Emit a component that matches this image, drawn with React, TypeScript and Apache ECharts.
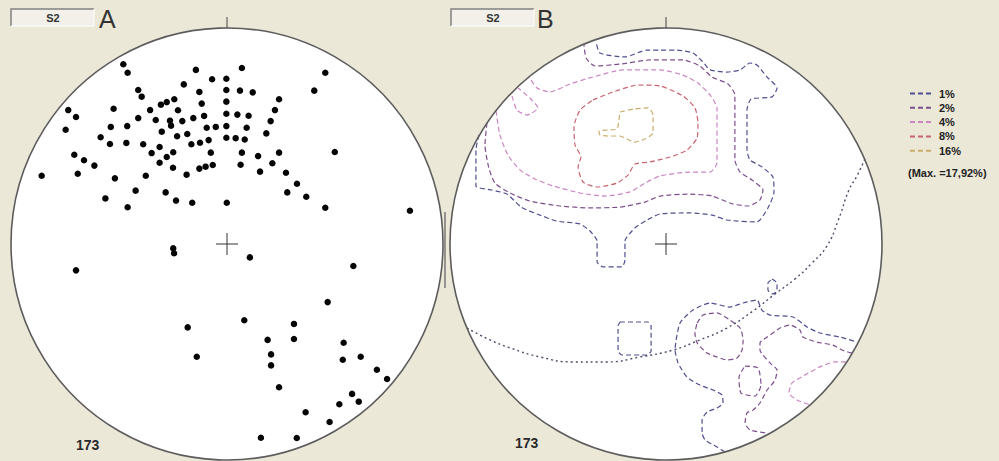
import React, { useEffect, useRef } from 'react';
import * as echarts from 'echarts';

// Projection coordinates on the net, radius = 100 (x east, y north)

// Panel A: poles of S2
const polesA: [number, number][] = [
  [-48.0, 83.2], [-46.0, 79.3], [-14.4, 80.6], [6.9, 81.5], [-6.9, 76.3], [-0.3, 76.5], [-20.0, 73.9],
  [-41.1, 71.3], [-39.5, 68.2], [-12.8, 70.4], [-0.3, 71.3], [6.0, 71.0], [-73.5, 62.0], [-69.9, 58.8],
  [-52.5, 62.6], [-30.6, 64.5], [-27.9, 65.7], [-24.4, 67.0], [-11.7, 65.0], [-0.3, 65.9], [-35.6, 62.0],
  [-22.7, 61.9], [-0.3, 60.3], [4.8, 59.9], [10.0, 59.4], [-41.1, 58.3], [-33.0, 57.4], [-26.4, 57.1],
  [-25.9, 54.8], [-20.7, 56.9], [-15.6, 58.3], [-10.6, 59.3], [-74.7, 52.9], [-53.8, 54.2], [-46.2, 54.6],
  [-30.2, 52.0], [-9.4, 53.8], [-5.2, 54.2], [-0.3, 54.6], [9.1, 53.8], [-58.5, 49.4], [-54.2, 46.3],
  [-46.6, 46.8], [-38.8, 46.2], [-23.1, 49.9], [-18.4, 50.9], [-16.5, 46.2], [-12.5, 46.9], [-8.5, 48.1],
  [-0.3, 49.2], [4.0, 49.0], [8.2, 48.4], [-31.2, 44.9], [-34.9, 42.1], [-24.9, 42.5], [-7.5, 42.3],
  [6.9, 42.3], [-70.7, 41.3], [-66.2, 38.8], [-61.4, 36.3], [-27.9, 40.3], [-31.2, 37.6], [-25.0, 35.3],
  [-12.8, 34.9], [-9.9, 35.8], [-6.6, 36.6], [6.3, 36.7], [-85.8, 31.6], [-69.1, 32.5], [-51.9, 30.4],
  [-37.6, 31.6], [-18.7, 32.1], [-42.3, 24.7], [-56.3, 21.1], [-28.4, 23.9], [-23.6, 20.1], [-46.0, 17.0],
  [-16.1, 19.1], [-0.1, 19.1], [45.5, 79.3], [11.9, 70.2], [40.4, 71.0], [24.1, 67.0], [22.2, 62.0],
  [20.2, 56.9], [18.2, 51.2], [14.4, 40.7], [24.1, 42.3], [49.9, 42.6], [21.0, 37.4], [15.3, 33.5],
  [27.3, 33.0], [32.4, 27.9], [27.9, 23.9], [36.7, 21.9], [45.5, 16.8], [84.7, 15.4], [-24.9, -2.0],
  [-24.5, -4.3], [-69.9, -12.2], [-18.2, -38.6], [-14.0, -52.2], [10.6, -6.2], [58.5, -10.2], [46.6, -26.9],
  [8.0, -35.3], [31.0, -37.0], [18.8, -44.4], [31.0, -44.0], [54.0, -45.7], [20.4, -51.1], [20.4, -56.2],
  [53.6, -53.6], [61.9, -52.2], [69.4, -58.2], [74.1, -62.5], [24.1, -66.3], [57.9, -69.4], [61.0, -73.0],
  [52.0, -74.2], [36.4, -77.9], [47.5, -82.4], [15.7, -89.7], [32.3, -89.8],
];

// Panel B: density contours
const levelNames = ['1%', '2%', '4%', '8%', '16%'];
const levelColors = ['#4f4f92', '#7d4f8e', '#cc86c4', '#c8646e', '#c9ad6a'];

const contour1: [number, number][][] = [
  [[-86.6, 50.5], [-88.0, 43.5], [-88.0, 26.9], [-80.6, 25.0], [-73.6, 23.1], [-67.1, 17.1], [-59.7, 13.9],
   [-50.5, 10.6], [-39.8, 9.3], [-35.2, 6.0], [-31.9, 1.4], [-31.9, -8.3], [-29.2, -10.6], [-20.4, -10.6],
   [-19.0, -7.4], [-19.0, 1.4], [-14.4, 7.4], [-8.8, 11.1], [-2.8, 13.9], [11.1, 14.4], [21.3, 13.4],
   [28.2, 11.1], [42.1, 10.2], [47.2, 16.7], [50.0, 24.1], [49.5, 31.0], [44.4, 35.7], [38.9, 38.9],
   [37.5, 43.5], [37.5, 62.0], [39.4, 67.1], [49.1, 68.1], [51.4, 72.2], [46.8, 77.3], [42.1, 82.9],
   [38.9, 83.8], [34.3, 80.6], [28.2, 79.6], [20.4, 80.6], [17.1, 84.3], [12.5, 88.4], [5.1, 89.8],
   [-2.8, 89.8], [-8.8, 89.8], [-19.0, 86.6], [-30.6, 88.4], [-32.4, 93.5]],
  [[27.3, -96.3], [23.6, -94.0], [18.1, -90.7], [16.7, -87.5], [16.7, -81.5], [19.0, -77.8], [23.6, -75.9],
   [26.4, -73.6], [25.9, -69.9], [21.8, -67.6], [15.7, -65.3], [9.7, -61.6], [5.6, -55.1], [4.2, -49.1],
   [6.5, -36.6], [12.5, -30.6], [20.4, -27.3], [29.6, -29.2], [35.7, -27.3], [42.1, -25.9], [44.4, -30.6],
   [48.2, -32.9], [58.8, -33.8], [65.3, -38.4], [71.3, -41.2], [80.6, -43.1], [88.4, -45.4]],
  [[49.1, -16.2], [51.4, -18.1], [51.4, -21.8], [49.1, -23.1], [47.2, -21.3], [47.2, -18.1], [49.1, -16.2]],
  [[-21.3, -36.1], [-8.3, -36.1], [-6.9, -38.0], [-6.9, -49.5], [-8.8, -51.4], [-20.4, -51.4], [-22.2, -49.5],
   [-22.2, -38.0], [-21.3, -36.1]],
];
const contour2: [number, number][][] = [
  [[-82.9, 56.0], [-83.8, 45.8], [-82.0, 35.2], [-79.2, 28.2], [-72.2, 23.6], [-63.0, 19.9], [-49.1, 17.6],
   [-35.2, 16.7], [-21.3, 17.1], [-9.7, 19.4], [-2.8, 22.2], [11.1, 23.1], [21.3, 22.2], [31.0, 18.5],
   [38.0, 17.6], [43.5, 20.4], [44.9, 25.0], [39.8, 29.6], [34.3, 33.3], [31.9, 38.9], [31.9, 69.0],
   [28.7, 74.1], [21.3, 77.3], [15.7, 82.4], [7.9, 85.2], [-7.4, 85.2], [-21.3, 83.3], [-32.9, 82.4],
   [-37.0, 86.1], [-38.0, 92.6]],
  [[14.4, -36.6], [17.1, -32.9], [23.6, -31.9], [29.6, -35.2], [34.3, -38.9], [35.7, -44.4], [35.2, -49.1],
   [32.9, -52.8], [28.2, -53.7], [23.6, -52.3], [19.0, -50.5], [14.4, -45.8], [13.4, -41.2], [14.4, -36.6]],
  [[86.1, -50.5], [81.5, -49.1], [77.3, -46.8], [69.9, -45.4], [63.4, -43.1], [62.0, -39.8], [57.4, -37.5],
   [52.8, -38.9], [46.8, -43.1], [43.5, -45.8], [43.5, -49.1], [48.2, -55.1], [51.4, -58.3], [50.5, -63.0],
   [46.8, -67.6], [43.5, -73.6], [40.3, -76.9], [37.5, -78.2], [36.6, -82.9], [38.9, -86.1], [46.8, -87.5]],
  [[36.6, -56.5], [42.6, -57.4], [44.0, -65.3], [41.2, -70.4], [34.7, -69.0], [33.8, -61.6], [36.6, -56.5]],
];
const contour4: [number, number][][] = [
  [[-78.7, 61.6], [-76.9, 50.5], [-73.2, 41.2], [-67.6, 34.3], [-60.7, 30.1], [-52.3, 26.9], [-39.8, 23.6],
   [-28.2, 22.2], [-16.7, 24.1], [-9.7, 28.2], [-2.8, 31.5], [11.1, 33.3], [20.4, 33.3], [23.6, 37.5],
   [23.6, 63.0], [20.4, 69.0], [14.8, 74.5], [7.9, 78.2], [-2.8, 80.6], [-19.9, 80.6], [-33.8, 77.3],
   [-44.4, 74.1], [-53.7, 70.4], [-59.7, 72.2], [-63.4, 77.3]],
  [[-71.3, 68.5], [-69.0, 62.0], [-64.4, 59.7], [-59.3, 63.0], [-63.0, 67.6], [-68.5, 72.2]],
  [[83.3, -54.6], [78.2, -54.6], [71.3, -56.9], [64.4, -60.6], [58.3, -64.4], [56.9, -69.0], [60.6, -72.2],
   [66.7, -74.5]],
];
const contour8: [number, number][][] = [
  [[-33.8, 66.7], [-25.9, 69.9], [-13.0, 73.6], [-2.8, 73.2], [7.9, 68.5], [13.4, 63.0], [14.8, 56.0],
   [14.4, 49.1], [9.7, 43.5], [1.9, 40.3], [-7.4, 38.0], [-14.4, 37.0], [-17.6, 31.9], [-22.7, 28.2],
   [-31.9, 26.4], [-38.4, 28.7], [-40.7, 35.7], [-39.4, 40.3], [-42.1, 45.8], [-42.6, 54.2], [-39.8, 62.0],
   [-33.8, 66.7]],
];
const contour16: [number, number][][] = [
  [[-21.3, 61.1], [-14.8, 62.5], [-8.3, 63.0], [-6.0, 59.7], [-6.0, 51.4], [-9.7, 48.6], [-14.4, 47.2],
   [-18.1, 48.6], [-21.3, 50.0], [-26.9, 50.0], [-30.6, 50.5], [-31.0, 52.3], [-26.9, 52.8], [-22.7, 53.2],
   [-21.8, 57.4], [-21.3, 61.1]],
];
const contourLevels = [contour1, contour2, contour4, contour8, contour16];

// Panel B: great circle
const greatCircle: [number, number][] = [
  [-92.1, -38.9], [-81.5, -44.4], [-72.2, -48.1], [-58.3, -52.3], [-43.1, -54.6], [-27.3, -54.6],
  [-12.0, -52.3], [3.2, -49.1], [15.7, -44.4], [28.2, -38.9], [40.3, -31.0], [50.5, -23.1], [59.7, -16.2],
  [67.6, -8.8], [74.5, -0.9], [79.6, 10.6], [84.7, 25.0], [88.4, 31.5], [92.1, 39.4],
];

const sampleCount = '173';
const maxLabel = '(Max. =17,92%)';
const setName = 'S2';

// Layout
const R = 216;
const CY = 244;
const CXA = 227;
const CXB = 666;
const FONT = '"Liberation Sans", Arial, sans-serif';

function txt(x: number, y: number, text: string, font: string, align = 'left', fill = '#2a2a2a') {
  return {
    type: 'text', x, y, z: 120,
    style: { text, font, fill, align, verticalAlign: 'middle', textAlign: align, textVerticalAlign: 'middle' },
  };
}

function panelDecor(cx: number, boxX: number, letter: string, letterX: number) {
  return [
    { type: 'circle', z: 0, shape: { cx, cy: CY, r: R }, style: { fill: '#ffffff' } },
    { type: 'circle', z: 110, shape: { cx, cy: CY, r: R }, style: { fill: 'none', stroke: '#5c5c5c', lineWidth: 1.6 } },
    { type: 'line', z: 110, shape: { x1: cx, y1: 17, x2: cx, y2: CY - R }, style: { stroke: '#444', lineWidth: 1 } },
    { type: 'line', z: 110, shape: { x1: cx - 11, y1: CY, x2: cx + 11, y2: CY }, style: { stroke: '#333', lineWidth: 1 } },
    { type: 'line', z: 110, shape: { x1: cx, y1: CY - 11, x2: cx, y2: CY + 11 }, style: { stroke: '#333', lineWidth: 1 } },
    { type: 'rect', z: 105, shape: { x: boxX, y: 9, width: 83, height: 17 }, style: { fill: '#f2f0e8' } },
    { type: 'polyline', z: 106, shape: { points: [[boxX, 26], [boxX, 9], [boxX + 83, 9]] }, style: { fill: 'none', stroke: '#808080', lineWidth: 1.5 } },
    { type: 'polyline', z: 106, shape: { points: [[boxX + 83, 9], [boxX + 83, 26], [boxX, 26]] }, style: { fill: 'none', stroke: '#ffffff', lineWidth: 1 } },
    txt(boxX + 42, 18, setName, `bold 11px ${FONT}`, 'center', '#333'),
    txt(letterX, 19, letter, `25px ${FONT}`, 'left', '#333'),
  ];
}

export default function App() {
  const ref = useRef<HTMLDivElement>(null);

  useEffect(() => {
    if (!ref.current) return;
    const chart = echarts.init(ref.current, undefined, { renderer: 'svg' });

    const series: any[] = [
      {
        type: 'scatter', name: 'poles', xAxisIndex: 0, yAxisIndex: 0, data: polesA,
        symbol: 'circle', symbolSize: 6.5, itemStyle: { color: '#050505', opacity: 1 }, z: 5, silent: true,
      },
    ];
    contourLevels.forEach((lines, li) => {
      lines.forEach((line) => {
        series.push({
          type: 'line', name: levelNames[li], xAxisIndex: 1, yAxisIndex: 1, data: line,
          symbol: 'none', smooth: 0.2, silent: true, z: 4,
          itemStyle: { color: levelColors[li] },
          lineStyle: { color: levelColors[li], width: 1.2, type: [5, 3] },
        });
      });
    });
    series.push({
      type: 'line', name: 'plane', xAxisIndex: 1, yAxisIndex: 1, data: greatCircle,
      symbol: 'none', smooth: true, silent: true, z: 4,
      lineStyle: { color: '#4c4c6c', width: 1.4, type: [2, 3] },
    });

    const axis = (i: number) => ({ type: 'value', gridIndex: i, min: -100, max: 100, show: false });

    chart.setOption({
      animation: false,
      backgroundColor: '#ebe8d8',
      grid: [
        { left: CXA - R, top: CY - R, width: 2 * R, height: 2 * R },
        { left: CXB - R, top: CY - R, width: 2 * R, height: 2 * R },
      ],
      xAxis: [axis(0), axis(1)],
      yAxis: [axis(0), axis(1)],
      legend: {
        data: levelNames,
        orient: 'vertical',
        left: 909,
        top: 88,
        padding: 0,
        itemWidth: 24,
        itemHeight: 12,
        itemGap: 3.3,
        selectedMode: false,
        itemStyle: { opacity: 0 },
        textStyle: { fontSize: 11, fontWeight: 'bold', color: '#222', fontFamily: 'Liberation Sans' },
      },
      series,
      graphic: {
        elements: [
          ...panelDecor(CXA, 11, 'A', 99),
          ...panelDecor(CXB, 451, 'B', 537),
          txt(76, 445, sampleCount, `bold 14px ${FONT}`),
          txt(515, 443, sampleCount, `bold 14px ${FONT}`),
          txt(908, 173, maxLabel, `bold 11px ${FONT}`, 'left', '#222'),
          { type: 'line', z: 1, shape: { x1: 445, y1: 212, x2: 445, y2: 288 }, style: { stroke: '#777', lineWidth: 1.5 } },
        ],
      },
    });

    return () => chart.dispose();
  }, []);

  return (
    <div
      ref={ref}
      style={{ position: 'fixed', left: 0, top: 0, width: 999, height: 461 }}
    />
  );
}
